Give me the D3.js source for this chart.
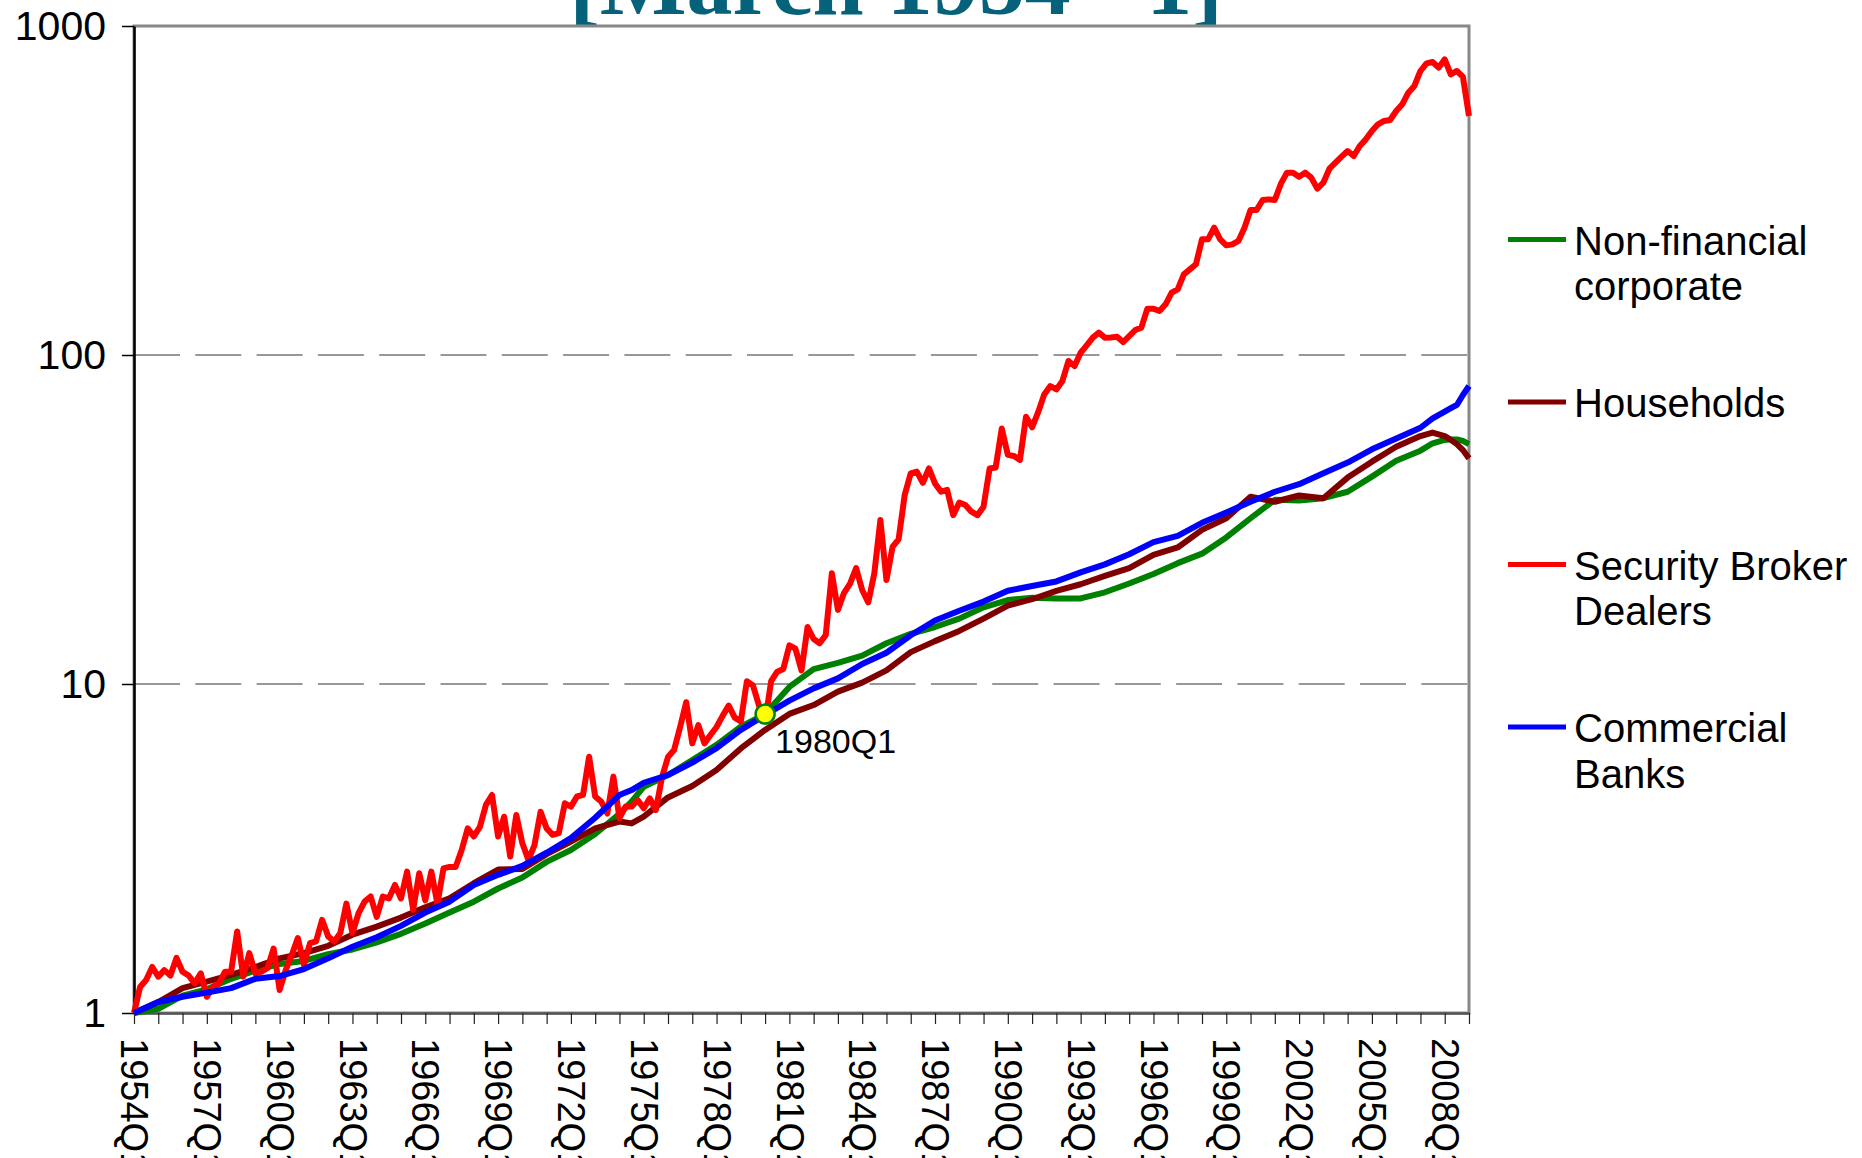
<!DOCTYPE html>
<html>
<head>
<meta charset="utf-8">
<script src="https://cdn.jsdelivr.net/npm/d3@7"></script>
<style>
  body { margin: 0; background: #fff; }
  svg { display: block; font-family: "Liberation Sans", Arial, sans-serif; }
</style>
</head>
<body>
<svg id="chart"></svg>
<script>
// quarterly categories 1954Q1 .. 2009Q1
const quarters = d3.range(221).map(i => `${1954 + Math.floor(i / 4)}Q${(i % 4) + 1}`);
const tickLabels = ["1954Q1", "1957Q1", "1960Q1", "1963Q1", "1966Q1", "1969Q1", "1972Q1",
  "1975Q1", "1978Q1", "1981Q1", "1984Q1", "1987Q1", "1990Q1", "1993Q1", "1996Q1",
  "1999Q1", "2002Q1", "2005Q1", "2008Q1"];
const yTicks = [1, 10, 100, 1000];
const title = "[March 1954 =1]";
const seriesNames = [["Non-financial", "corporate"], ["Households"], ["Security Broker", "Dealers"], ["Commercial", "Banks"]];
const seriesColors = ["#008000", "#800000", "#ff0000", "#0000ff"];
const markerQuarter = "1980Q1";

// the smooth series are read once a year (Q1), with a few extra quarters
const smoothQuarters = [
  "1954Q1", "1955Q1", "1956Q1", "1957Q1", "1958Q1", "1959Q1", "1960Q1", "1961Q1", "1962Q1", "1963Q1",
  "1964Q1", "1965Q1", "1966Q1", "1967Q1", "1968Q1", "1969Q1", "1970Q1", "1971Q1", "1972Q1", "1973Q1",
  "1974Q1", "1974Q3", "1975Q1", "1976Q1", "1977Q1", "1978Q1", "1979Q1", "1980Q1", "1981Q1", "1982Q1", "1983Q1",
  "1984Q1", "1985Q1", "1986Q1", "1987Q1", "1988Q1", "1989Q1", "1990Q1", "1991Q1", "1992Q1", "1993Q1",
  "1994Q1", "1995Q1", "1996Q1", "1997Q1", "1998Q1", "1999Q1", "2000Q1", "2001Q1", "2002Q1", "2003Q1",
  "2004Q1", "2005Q1", "2006Q1", "2007Q1", "2007Q3", "2008Q1",
  "2008Q2", "2008Q3", "2008Q4", "2009Q1"
];

const nonFinancial = [
  1.00, 1.03, 1.13, 1.18, 1.27, 1.345, 1.41, 1.44, 1.51, 1.56,
  1.64, 1.74, 1.87, 2.02, 2.18, 2.39, 2.58, 2.88, 3.13, 3.50,
  4.03, 4.39, 4.87, 5.29, 5.87, 6.53, 7.42, 8.10, 9.8, 11.1, 11.6,
  12.2, 13.3, 14.2, 14.9, 15.8, 17.1, 18.0, 18.3, 18.2, 18.2,
  19.0, 20.2, 21.6, 23.3, 24.9, 27.9, 31.9, 36.3, 36.1, 36.7,
  38.4, 42.7, 47.7, 51.2, 53.9, 55.2,
  55.4, 55.4, 54.8, 53.6
];
const households = [
  1.00, 1.08, 1.19, 1.245, 1.305, 1.38, 1.466, 1.52, 1.60, 1.73,
  1.83, 1.95, 2.095, 2.23, 2.48, 2.73, 2.74, 3.04, 3.32, 3.64,
  3.82, 3.77, 3.95, 4.52, 4.90, 5.48, 6.37, 7.25, 8.11, 8.63, 9.48,
  10.1, 11.0, 12.5, 13.5, 14.5, 15.8, 17.3, 18.1, 19.2, 20.1,
  21.3, 22.5, 24.7, 26.0, 29.4, 31.9, 37.1, 35.8, 37.4, 36.7,
  42.4, 47.4, 52.6, 56.7, 58.1, 56.7,
  55.2, 53.6, 51.4, 48.5
];
const commercialBanks = [
  1.00, 1.08, 1.12, 1.153, 1.19, 1.27, 1.295, 1.36, 1.466, 1.59,
  1.70, 1.84, 2.02, 2.18, 2.45, 2.63, 2.80, 3.07, 3.40, 3.92,
  4.60, 4.76, 5.01, 5.29, 5.77, 6.38, 7.25, 8.05, 8.9, 9.70, 10.4,
  11.5, 12.45, 14.06, 15.6, 16.7, 17.8, 19.2, 19.86, 20.5, 21.85,
  23.1, 24.8, 27.0, 28.2, 30.9, 33.2, 35.8, 38.4, 40.5, 43.7,
  47.1, 51.7, 55.7, 60.1, 64.2, 67.3,
  68.9, 70.5, 75.6, 80.5
];
// broker dealers, every quarter (3 years per row)
const brokerDealers = [
  1.00, 1.20, 1.26, 1.38, 1.29, 1.35, 1.30, 1.47, 1.335, 1.30, 1.23, 1.32,
  1.12, 1.20, 1.23, 1.335, 1.335, 1.77, 1.29, 1.52, 1.32, 1.335, 1.37, 1.57,
  1.175, 1.35, 1.50, 1.69, 1.40, 1.63, 1.65, 1.92, 1.71, 1.65, 1.75, 2.15,
  1.75, 2.01, 2.18, 2.26, 1.96, 2.26, 2.23, 2.45, 2.23, 2.69, 2.06, 2.66,
  2.20, 2.69, 2.15, 2.75, 2.78, 2.78, 3.13, 3.64, 3.44, 3.68, 4.29, 4.60,
  3.44, 3.95, 2.99, 4.00, 3.28, 2.92, 3.24, 4.09, 3.64, 3.48, 3.52, 4.34,
  4.24, 4.55, 4.60, 6.01, 4.55, 4.39, 4.04, 5.23, 3.91, 4.24, 4.24, 4.44,
  4.19, 4.49, 4.14, 5.2, 6.0, 6.3, 7.4, 8.8, 6.6, 7.5, 6.6, 7.0,
  7.4, 8.0, 8.6, 7.9, 7.7, 10.2, 9.9, 8.6, 7.7, 10.2, 10.9, 11.1,
  13.1, 12.8, 11.0, 14.9, 13.7, 13.3, 14.1, 21.7, 16.8, 18.9, 20.2, 22.5,
  19.3, 17.7, 21.7, 31.5, 20.7, 26.1, 27.5, 37.5, 43.7, 44.2, 40.9, 45.2,
  40.7, 38.4, 38.9, 32.6, 35.6, 35.0, 33.4, 32.6, 34.6, 45.2, 45.5, 59.8,
  49.7, 49.3, 48.0, 64.9, 60.3, 67, 75.9, 80.5, 78.6, 83.4, 95.9, 92.6,
  101.6, 107, 112.9, 116.9, 112.9, 113, 113.7, 109.5, 114.2, 119.1, 121.1, 138.3,
  138.3, 136, 142.6, 154.7, 158.4, 175.9, 182.1, 188.7, 224.7, 224.7, 243.8, 224.7,
  215.4, 216.9, 222.2, 243.8, 275.9, 275.9, 295.8, 297.2, 295.8, 331.7, 358.3, 358.3,
  348.4, 358.3, 346, 320.3, 334.1, 368.4, 384.3, 400.7, 416.9, 402.6, 431.8, 452.3,
  479.7, 502.5, 514.4, 518, 551.6, 578.1, 627.2, 657.1, 729.9, 770.2, 777.4, 747.1,
  792, 712.9, 729.9, 700, 532.6
];

const width = 1862;
const height = 1158;
const plot = { left: 134, right: 1469, top: 26, bottom: 1013 };

const svg = d3.select("#chart").attr("width", width).attr("height", height);

const xScale = d3.scaleLinear().domain([0, quarters.length - 1]).range([plot.left, plot.right]);
const yScale = d3.scaleLog().domain([1, 1000]).range([plot.bottom, plot.top]);

// slide title, mostly above the page edge
svg
  .append("text")
  .attr("x", 896)
  .attr("y", 14)
  .attr("text-anchor", "middle")
  .attr("font-family", "'Liberation Serif', 'Times New Roman', serif")
  .attr("font-weight", "bold")
  .attr("font-size", 92)
  .attr("fill", "#05627a")
  .text(title);

// plot area
svg
  .append("rect")
  .attr("x", plot.left)
  .attr("y", plot.top)
  .attr("width", plot.right - plot.left)
  .attr("height", plot.bottom - plot.top)
  .attr("fill", "#fff")
  .attr("stroke", "#888")
  .attr("stroke-width", 3);

// dashed gridlines at 10 and 100
svg
  .selectAll(".grid")
  .data(yTicks.slice(1, 3))
  .enter()
  .append("line")
  .attr("class", "grid")
  .attr("x1", plot.left)
  .attr("x2", plot.right)
  .attr("y1", d => yScale(d))
  .attr("y2", d => yScale(d))
  .attr("stroke", "#777")
  .attr("stroke-width", 1.5)
  .attr("stroke-dasharray", "46,15.3");

// y axis
svg
  .append("g")
  .attr("transform", `translate(${plot.left},0)`)
  .call(d3.axisLeft(yScale).tickValues(yTicks).tickFormat(d3.format("d")).tickSizeInner(12).tickSizeOuter(0).tickPadding(16))
  .attr("font-size", 41)
  .attr("font-family", "'Liberation Sans', Arial, sans-serif")
  .call(g => g.select(".domain").attr("stroke", "#000").attr("stroke-width", 2.5))
  .call(g => g.selectAll(".tick line").attr("stroke", "#000").attr("stroke-width", 1.5))
  .call(g => g.selectAll(".tick text").attr("fill", "#000"));

// x axis: a tick every year, a label every third year
svg
  .append("g")
  .attr("transform", `translate(0,${plot.bottom})`)
  .call(
    d3
      .axisBottom(xScale)
      .tickValues(d3.range(0, quarters.length, 4))
      .tickFormat(i => (tickLabels.includes(quarters[i]) ? quarters[i] : ""))
      .tickSizeInner(11)
      .tickSizeOuter(0)
  )
  .attr("font-size", 38)
  .attr("font-family", "'Liberation Sans', Arial, sans-serif")
  .call(g => g.select(".domain").attr("stroke", "#555").attr("stroke-width", 2.5))
  .call(g => g.selectAll(".tick line").attr("stroke", "#222").attr("stroke-width", 1.2))
  .call(g =>
    g
      .selectAll(".tick text")
      .attr("fill", "#000")
      .attr("transform", "rotate(90)")
      .attr("x", 25)
      .attr("y", 0)
      .attr("dy", "0.35em")
      .attr("text-anchor", "start")
  );

const line = d3
  .line()
  .x(d => xScale(d.i))
  .y(d => yScale(d.v));

const smoothIdx = smoothQuarters.map(q => quarters.indexOf(q));
const series = [
  smoothIdx.map((i, k) => ({ i, v: nonFinancial[k] })),
  smoothIdx.map((i, k) => ({ i, v: households[k] })),
  brokerDealers.map((v, i) => ({ i, v })),
  smoothIdx.map((i, k) => ({ i, v: commercialBanks[k] }))
];

svg
  .selectAll(".series")
  .data(series)
  .enter()
  .append("path")
  .attr("class", "series")
  .attr("d", line)
  .attr("fill", "none")
  .attr("stroke", (d, k) => seriesColors[k])
  .attr("stroke-width", 6)
  .attr("stroke-linejoin", "round");

// 1980Q1 marker on the non-financial line
const markerI = quarters.indexOf(markerQuarter);
const markerV = nonFinancial[smoothQuarters.indexOf(markerQuarter)];
svg
  .append("circle")
  .attr("cx", xScale(markerI))
  .attr("cy", yScale(markerV))
  .attr("r", 9.5)
  .attr("fill", "#ffff00")
  .attr("stroke", "#008000")
  .attr("stroke-width", 2.5);

svg
  .append("text")
  .attr("x", xScale(markerI) + 10)
  .attr("y", yScale(markerV) + 39)
  .attr("font-size", 34)
  .attr("fill", "#000")
  .text(markerQuarter);

// legend
const legend = svg
  .selectAll(".legend")
  .data(seriesNames)
  .enter()
  .append("g")
  .attr("class", "legend")
  .attr("transform", (d, k) => `translate(1508,${239.5 + k * 162.5})`);

legend
  .append("line")
  .attr("x1", 0)
  .attr("x2", 58)
  .attr("stroke", (d, k) => seriesColors[k])
  .attr("stroke-width", 5);

legend
  .append("text")
  .attr("font-size", 40)
  .attr("fill", "#000")
  .selectAll("tspan")
  .data(d => d)
  .enter()
  .append("tspan")
  .attr("x", 66)
  .attr("y", (d, j) => 15 + j * 45.6)
  .text(d => d);
</script>
</body>
</html>
